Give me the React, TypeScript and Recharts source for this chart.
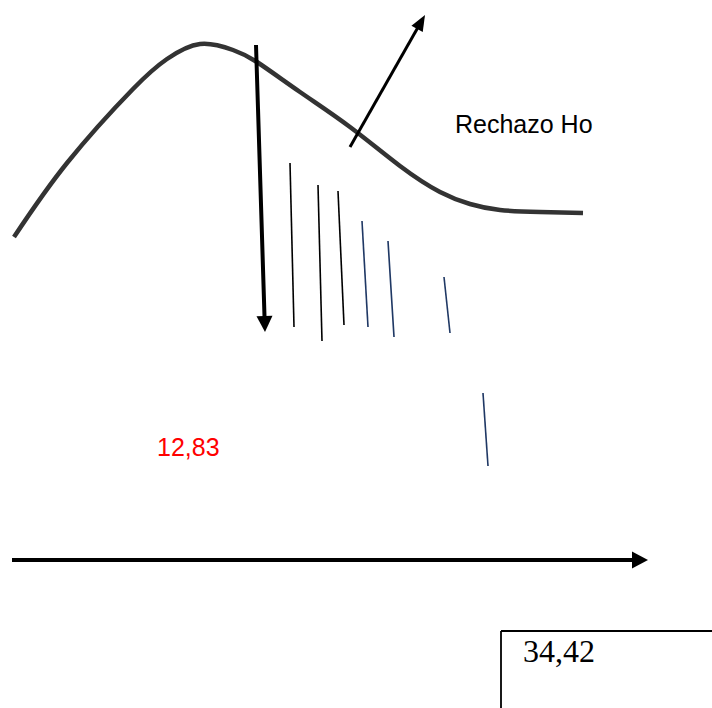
import React from "react";
import { ComposedChart, Line, XAxis, YAxis, ReferenceLine, ReferenceDot } from "recharts";

const W = 712;
const H = 708;

// Bell-like curve (diagram coordinates, y grows downward)
const curveX = [14, 67, 133, 167, 200, 233, 257, 300, 350, 400, 440, 470, 500, 540, 583];
const curveY = [237, 163, 89, 59, 44, 50, 62, 92, 127, 166, 192, 204, 210, 212, 213];

// Hatch strokes under the tail
const hatchX1 = [290, 318, 338, 362, 388, 444, 483];
const hatchY1 = [163, 185, 191, 221, 241, 277, 393];
const hatchX2 = [294, 322, 344, 368, 394, 450, 488];
const hatchY2 = [327, 341, 325, 327, 337, 333, 466];
const hatchColor = ["#000000", "#000000", "#000000", "#1f3864", "#1f3864", "#1f3864", "#1f3864"];

// Arrows: [x1, y1, x2, y2]
const arrowDown = [256, 45, 265, 332];
const arrowUp = [350, 147, 425, 15];
const arrowAxis = [12, 560, 648, 560];

// Box lines
const boxLeft = [501, 631, 501, 712];
const boxTop = [501, 631, 712, 631];

// Labels
const labelTexts = ["Rechazo Ho", "12,83", "34,42"];
const labelX = [455, 157, 523];
const labelY = [133, 456, 662];
const labelColor = ["#000000", "#ff0000", "#000000"];
const labelFont = ["'Liberation Sans', Arial, sans-serif", "'Liberation Sans', Arial, sans-serif", "'Liberation Serif', 'Times New Roman', serif"];
const labelSize = [25, 25, 32];

const curveData = curveX.map((x, i) => ({ x, y: curveY[i] }));

const arrowShape = (headLen: number, headWidth: number, sw: number) => (p: any) => {
  const { x1, y1, x2, y2 } = p;
  const a = Math.atan2(y2 - y1, x2 - x1);
  const dx = Math.cos(a);
  const dy = Math.sin(a);
  const bx = x2 - headLen * dx;
  const by = y2 - headLen * dy;
  const px = -dy * (headWidth / 2);
  const py = dx * (headWidth / 2);
  return (
    <g>
      <line x1={x1} y1={y1} x2={bx + dx} y2={by + dy} stroke="#000" strokeWidth={sw} />
      <polygon points={`${x2},${y2} ${bx + px},${by + py} ${bx - px},${by - py}`} fill="#000" />
    </g>
  );
};

const textShape = (i: number) => (p: any) => (
  <text
    x={p.cx}
    y={p.cy}
    fill={labelColor[i]}
    fontFamily={labelFont[i]}
    fontSize={labelSize[i]}
    textAnchor="start"
  >
    {labelTexts[i]}
  </text>
);

const seg = (s: number[]) => [
  { x: s[0], y: s[1] },
  { x: s[2], y: s[3] },
];

export default function App() {
  return (
    <div style={{ position: "absolute", left: 0, top: 0, width: W, height: H, background: "#fff" }}>
      <ComposedChart width={W} height={H} data={curveData} margin={{ top: 0, right: 0, bottom: 0, left: 0 }}>
        <XAxis dataKey="x" type="number" domain={[0, W]} hide allowDataOverflow />
        <YAxis type="number" domain={[0, H]} reversed hide allowDataOverflow />
        <Line
          dataKey="y"
          type="natural"
          stroke="#333333"
          strokeWidth={4.5}
          dot={false}
          activeDot={false}
          isAnimationActive={false}
        />
        {hatchX1.map((x, i) => (
          <ReferenceLine
            key={"h" + i}
            segment={seg([x, hatchY1[i], hatchX2[i], hatchY2[i]])}
            stroke={hatchColor[i]}
            strokeWidth={1.6}
            ifOverflow="visible"
          />
        ))}
        <ReferenceLine segment={seg(arrowDown)} ifOverflow="visible" shape={arrowShape(16, 16, 4)} />
        <ReferenceLine segment={seg(arrowUp)} ifOverflow="visible" shape={arrowShape(16, 13, 3)} />
        <ReferenceLine segment={seg(arrowAxis)} ifOverflow="visible" shape={arrowShape(16, 17, 4)} />
        <ReferenceLine segment={seg(boxLeft)} stroke="#000" strokeWidth={1.8} ifOverflow="visible" />
        <ReferenceLine segment={seg(boxTop)} stroke="#000" strokeWidth={1.8} ifOverflow="visible" />
        {labelTexts.map((t, i) => (
          <ReferenceDot key={"t" + i} x={labelX[i]} y={labelY[i]} r={0} ifOverflow="visible" shape={textShape(i)} />
        ))}
      </ComposedChart>
    </div>
  );
}
